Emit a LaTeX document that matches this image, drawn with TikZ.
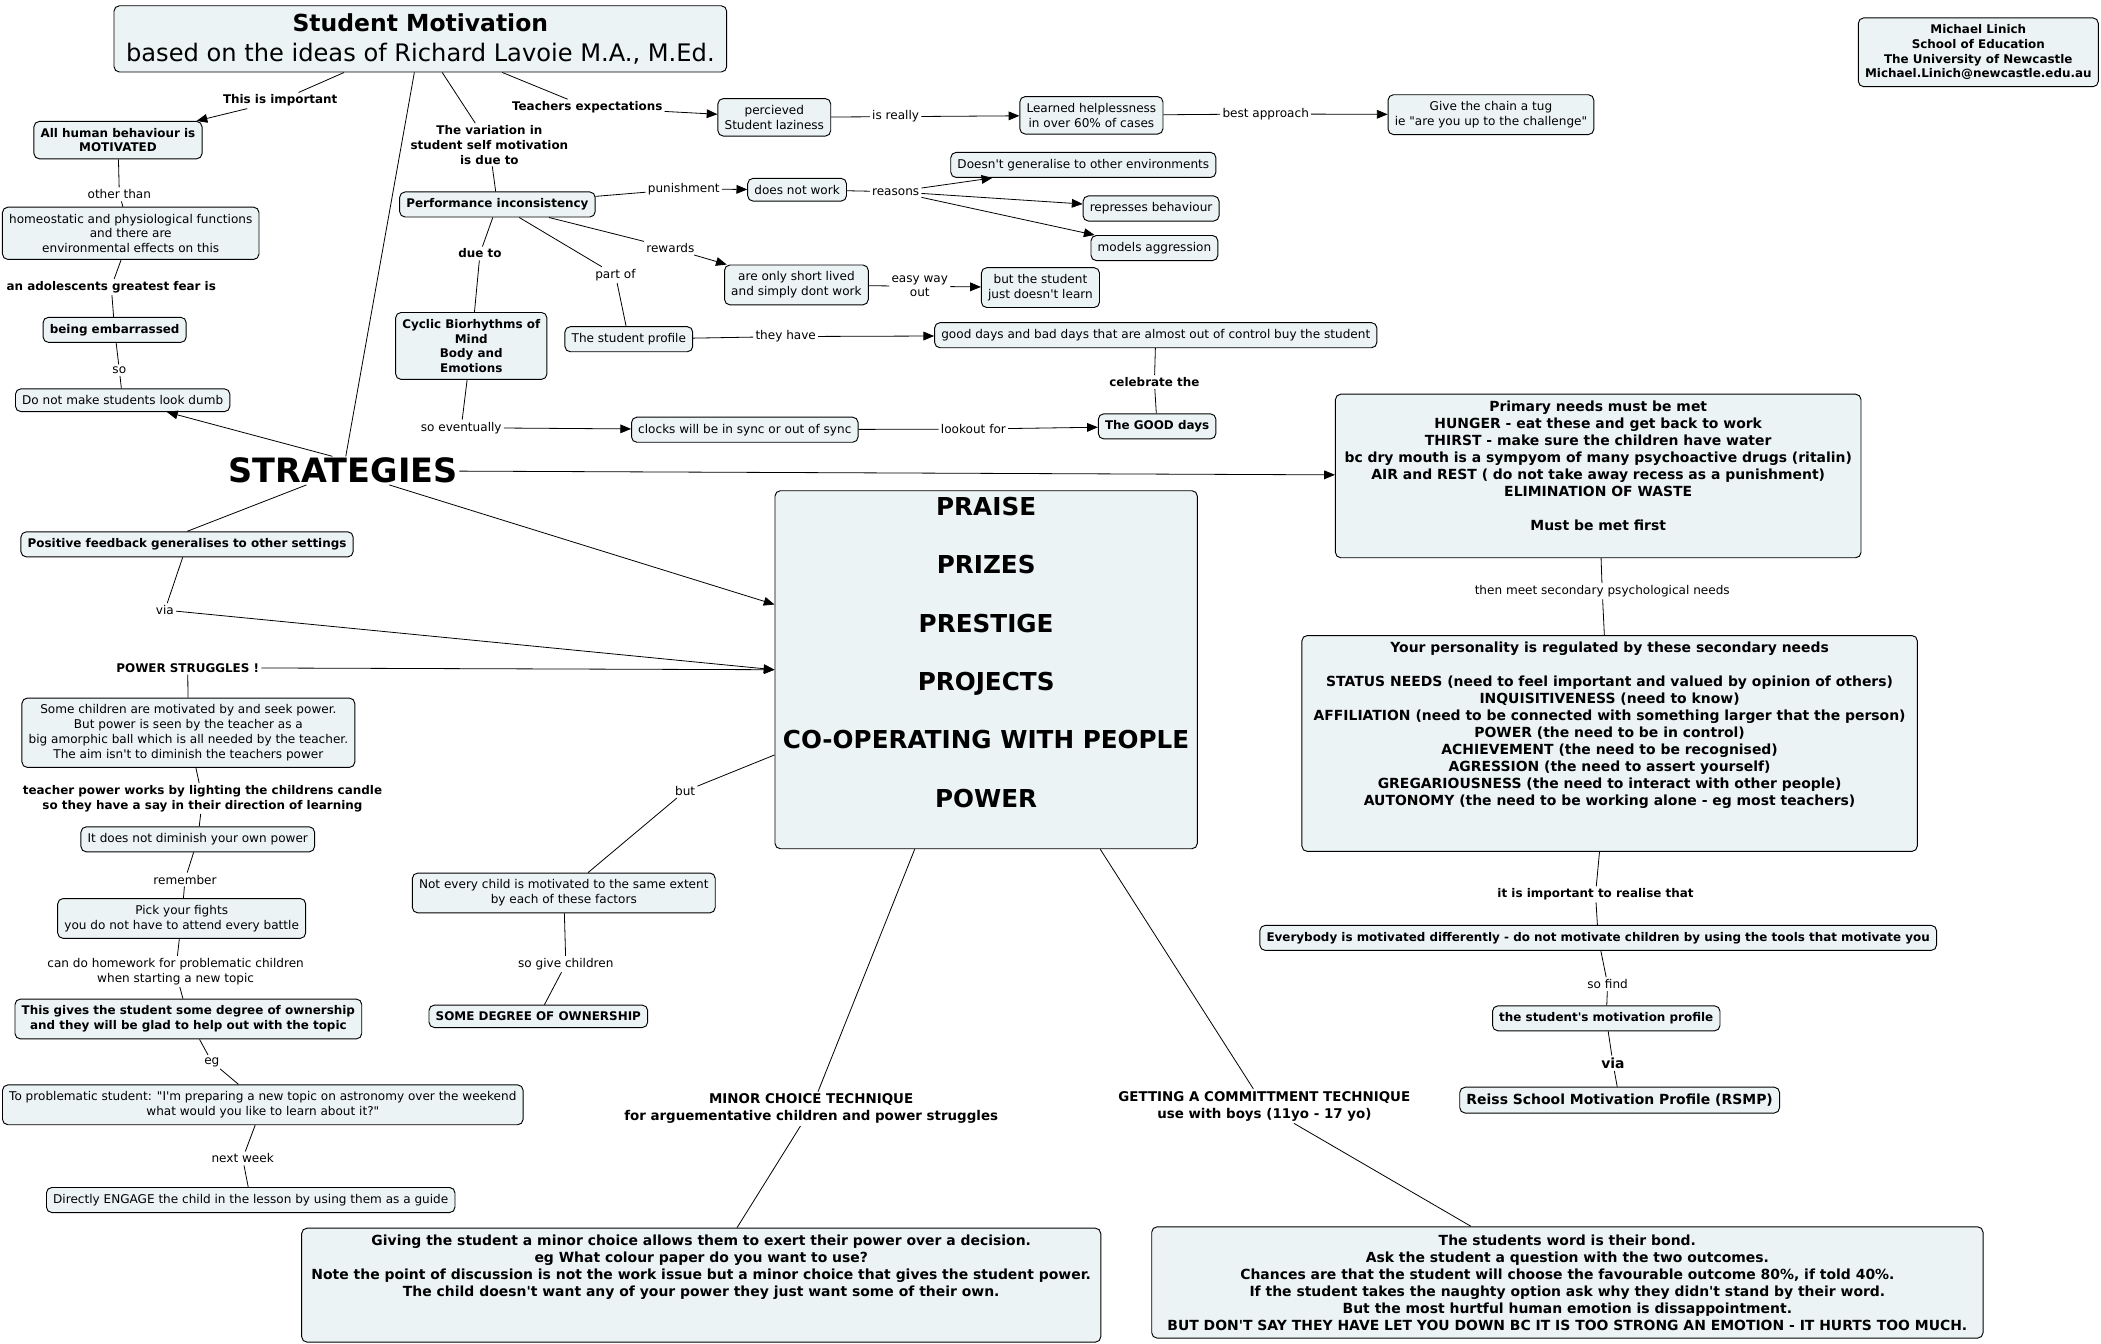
\documentclass[tikz,border=0pt]{standalone}
\usepackage{fontspec}
\setmainfont{DejaVu Sans}[Ligatures=TeXOff]
\usetikzlibrary{arrows.meta}
\definecolor{boxfill}{RGB}{236,243,245}
\tikzset{
  concept/.style={draw, rounded corners=4pt, fill=boxfill, line width=0.7pt, align=center,
    inner xsep=5pt, inner ysep=5pt, font=\fontsize{9}{11}\selectfont},
  bconcept/.style={concept, font=\fontsize{8.9}{11}\selectfont\bfseries},
  bigbox/.style={draw, rounded corners=4pt, fill=boxfill, line width=0.7pt},
  bigtext/.style={align=center, inner sep=0pt, font=\fontsize{10.4}{12.7}\selectfont\bfseries},
  link/.style={align=center, inner sep=1.5pt, font=\fontsize{9}{11}\selectfont},
  blink/.style={link, font=\fontsize{8.9}{11}\selectfont\bfseries},
  con/.style={line width=0.6pt},
  arr/.style={con, -{Triangle[length=8pt,width=6.5pt]}},
}

\begin{document}
\begin{tikzpicture}[x=1pt,y=-1pt]
  \fill[white] (0,0) rectangle (1567,1002.4);
  \useasboundingbox (0,0) rectangle (1567,1002.4);

  % title and author
  \node[concept, inner xsep=9pt, inner ysep=6pt, font=\fontsize{18}{22}\selectfont] (title) at (313.5,29)
    {{\bfseries\fontsize{17.5}{22}\selectfont Student Motivation}\\based on the ideas of Richard Lavoie M.A., M.Ed.};
  \node[bconcept] (author) at (1475.5,39) {Michael Linich\\School of Education\\The University of Newcastle\\Michael.Linich@newcastle.edu.au};

  % upper left branch
  \node[bconcept] (human) at (88,104.5) {All human behaviour is\\MOTIVATED};
  \node[concept] (homeo) at (97.5,174) {homeostatic and physiological functions\\and there are\\environmental effects on this};
  \node[bconcept] (embarrassed) at (85.5,246) {being embarrassed};
  \node[concept] (dumb) at (91.5,298.5) {Do not make students look dumb};

  % performance inconsistency
  \node[bconcept] (inconsistency) at (371,152.5) {Performance inconsistency};
  \node[bconcept] (cyclic) at (351.5,258) {Cyclic Biorhythms of\\Mind\\Body and\\Emotions};
  \node[concept] (profile) at (469,253) {The student profile};
  \node[concept] (laziness) at (577.5,87.5) {percieved\\Student laziness};
  \node[concept] (helpless) at (814,86) {Learned helplessness\\in over 60\% of cases};
  \node[concept] (tug) at (1112,85.5) {Give the chain a tug\\ie "are you up to the challenge"};
  \node[concept] (notwork) at (594.5,141.5) {does not work};
  \node[concept] (generalise) at (808,123) {Doesn't generalise to other environments};
  \node[concept] (represses) at (858.5,155.5) {represses behaviour};
  \node[concept] (aggression) at (861,185) {models aggression};
  \node[concept] (shortlived) at (594,212.5) {are only short lived\\and simply dont work};
  \node[concept] (dontlearn) at (776,214.5) {but the student\\just doesn't learn};
  \node[concept] (gooddays) at (862,250) {good days and bad days that are almost out of control buy the student};
  \node[concept] (clocks) at (555.5,320.5) {clocks will be in sync or out of sync};
  \node[bconcept] (thegood) at (863,318) {The GOOD days};

  \node[inner sep=1pt, font=\fontsize{25}{28}\selectfont\bfseries] (strategies) at (256,351) {STRATEGIES};

  % needs
  \node[bigbox, minimum width=392pt, minimum height=122pt] (primary) at (1192,355) {};
  \node[bigtext] (primarytext) at (1192,347.5) {Primary needs must be met\\HUNGER - eat these and get back to work\\THIRST - make sure the children have water\\bc dry mouth is a sympyom of many psychoactive drugs (ritalin)\\AIR and REST ( do not take away recess as a punishment)\\ELIMINATION OF WASTE\\[12.7pt]Must be met first};
  \node[bigbox, minimum width=459pt, minimum height=161pt] (secondary) at (1200.5,554.5) {};
  \node[bigtext] (secondarytext) at (1200.5,541) {Your personality is regulated by these secondary needs\\[12.7pt]STATUS NEEDS (need to feel important and valued by opinion of others)\\INQUISITIVENESS (need to know)\\AFFILIATION (need to be connected with something larger that the person)\\POWER (the need to be in control)\\ACHIEVEMENT (the need to be recognised)\\AGRESSION (the need to assert yourself)\\GREGARIOUSNESS (the need to interact with other people)\\AUTONOMY (the need to be working alone - eg most teachers)};

  % the six P's
  \node[bigbox, minimum width=315pt, minimum height=267pt] (praise) at (735.5,499.5) {};
  \node[bigtext, font=\fontsize{18.4}{21.75}\selectfont\bfseries] (praisetext) at (735.5,486.5) {PRAISE\\[21.75pt]PRIZES\\[21.75pt]PRESTIGE\\[21.75pt]PROJECTS\\[21.75pt]CO-OPERATING WITH PEOPLE\\[21.75pt]POWER};

  % lower left branch
  \node[bconcept] (feedback) at (139.5,406) {Positive feedback generalises to other settings};
  \node[concept] (seekpower) at (140.5,546.5) {Some children are motivated by and seek power.\\But power is seen by the teacher as a\\big amorphic ball which is all needed by the teacher.\\The aim isn't to diminish the teachers power};
  \node[concept] (owndiminish) at (147.5,626) {It does not diminish your own power};
  \node[concept] (fights) at (135.5,685) {Pick your fights\\you do not have to attend every battle};
  \node[bconcept] (ownership) at (140.5,760) {This gives the student some degree of ownership\\and they will be glad to help out with the topic};
  \node[concept] (astronomy) at (196,824) {To problematic student: "I'm preparing a new topic on astronomy over the weekend\\what would you like to learn about it?"};
  \node[concept] (engage) at (187,895) {Directly ENGAGE the child in the lesson by using them as a guide};
  \node[concept] (notevery) at (420.5,666) {Not every child is motivated to the same extent\\by each of these factors};
  \node[bconcept] (someowner) at (401.5,758) {SOME DEGREE OF OWNERSHIP};

  % techniques
  \node[bigbox, minimum width=596pt, minimum height=85pt] (minorbox) at (523,958.5) {};
  \node[bigtext] (minortext) at (523,945) {Giving the student a minor choice allows them to exert their power over a decision.\\eg What colour paper do you want to use?\\Note the point of discussion is not the work issue but a minor choice that gives the student power.\\The child doesn't want any of your power they just want some of their own.};
  \node[bigbox, minimum width=620pt, minimum height=83pt] (commitbox) at (1169,956.5) {};
  \node[bigtext] (committext) at (1169,956.5) {The students word is their bond.\\Ask the student a question with the two outcomes.\\Chances are that the student will choose the favourable outcome 80\%, if told 40\%.\\If the student takes the naughty option ask why they didn't stand by their word.\\But the most hurtful human emotion is dissappointment.\\BUT DON'T SAY THEY HAVE LET YOU DOWN BC IT IS TOO STRONG AN EMOTION - IT HURTS TOO MUCH.};

  % right branch
  \node[bconcept] (everybody) at (1192,699.5) {Everybody is motivated differently - do not motivate children by using the tools that motivate you};
  \node[bconcept] (motprofile) at (1198,759.5) {the student's motivation profile};
  \node[bconcept, font=\fontsize{10.4}{12.7}\selectfont\bfseries] (reiss) at (1208,820.5) {Reiss School Motivation Profile (RSMP)};

  % linking phrases
  \node[blink] (important) at (209,75) {This is important};
  \node[blink] (expectations) at (438,80) {Teachers expectations};
  \node[blink] (variation) at (365,108) {The variation in\\student self motivation\\is due to};
  \node[link] (otherthan) at (89,145) {other than};
  \node[blink] (fear) at (83,214) {an adolescents greatest fear is};
  \node[link] (so) at (89,276) {so};
  \node[link] (punishment) at (510,141) {punishment};
  \node[link] (reasons) at (668,143) {reasons};
  \node[link] (rewards) at (500,185) {rewards};
  \node[link] (partof) at (459,205) {part of};
  \node[blink] (dueto) at (358,189) {due to};
  \node[link] (easyway) at (686,213.5) {easy way\\out};
  \node[link] (theyhave) at (586,251) {they have};
  \node[blink] (celebrate) at (861,285) {celebrate the};
  \node[link] (eventually) at (344,319) {so eventually};
  \node[link] (lookout) at (726,320) {lookout for};
  \node[link] (isreally) at (668,87) {is really};
  \node[link] (bestapproach) at (944,85) {best approach};
  \node[link] (via) at (123,455) {via};
  \node[blink] (struggles) at (140,498) {POWER STRUGGLES !};
  \node[blink] (candle) at (151,595.5) {teacher power works by lighting the childrens candle\\so they have a say in their direction of learning};
  \node[link] (remember) at (138,656) {remember};
  \node[link] (homework) at (131,724.5) {can do homework for problematic children\\when starting a new topic};
  \node[link] (eg) at (158,792) {eg};
  \node[link] (nextweek) at (181,864) {next week};
  \node[link] (but) at (511,590) {but};
  \node[link] (sogive) at (422,719) {so give children};
  \node[link] (thenmeet) at (1195,441) {then meet secondary psychological needs};
  \node[blink] (realise) at (1190,667) {it is important to realise that};
  \node[link] (sofind) at (1199,734) {so find};
  \node[blink, font=\fontsize{10.4}{12.7}\selectfont\bfseries] (viaprofile) at (1203,793) {via};
  \node[blink, font=\fontsize{10}{12.7}\selectfont\bfseries] (minorchoice) at (605,827) {MINOR CHOICE TECHNIQUE\\for arguementative children and power struggles};
  \node[blink, font=\fontsize{10}{12.7}\selectfont\bfseries] (commitment) at (943,825) {GETTING A COMMITTMENT TECHNIQUE\\use with boys (11yo - 17 yo)};

  % connectors
  \draw[con] (title) -- (important);
  \draw[arr] (important) -- (human);
  \draw[con] (title) -- (expectations);
  \draw[arr] (expectations) -- (laziness);
  \draw[con] (title) -- (variation);
  \draw[con] (variation) -- (inconsistency);
  \draw[con] (title) -- (strategies);
  \draw[con] (laziness) -- (isreally);
  \draw[arr] (isreally) -- (helpless);
  \draw[con] (helpless) -- (bestapproach);
  \draw[arr] (bestapproach) -- (tug);
  \draw[con] (human) -- (otherthan);
  \draw[con] (otherthan) -- (homeo);
  \draw[con] (homeo) -- (fear);
  \draw[con] (fear) -- (embarrassed);
  \draw[con] (embarrassed) -- (so);
  \draw[con] (so) -- (dumb);
  \draw[con] (inconsistency) -- (punishment);
  \draw[arr] (punishment) -- (notwork);
  \draw[con] (notwork) -- (reasons);
  \draw[arr] (reasons) -- (generalise);
  \draw[arr] (reasons) -- (represses);
  \draw[arr] (reasons) -- (aggression);
  \draw[con] (inconsistency) -- (rewards);
  \draw[arr] (rewards) -- (shortlived);
  \draw[con] (shortlived) -- (easyway);
  \draw[arr] (easyway) -- (dontlearn);
  \draw[con] (inconsistency) -- (partof);
  \draw[con] (partof) -- (profile);
  \draw[con] (inconsistency) -- (dueto);
  \draw[con] (dueto) -- (cyclic);
  \draw[con] (profile) -- (theyhave);
  \draw[arr] (theyhave) -- (gooddays);
  \draw[con] (gooddays) -- (celebrate);
  \draw[con] (celebrate) -- (thegood);
  \draw[con] (cyclic) -- (eventually);
  \draw[arr] (eventually) -- (clocks);
  \draw[con] (clocks) -- (lookout);
  \draw[arr] (lookout) -- (thegood);

  \draw[arr] ([xshift=-8pt]strategies.north) -- (dumb);
  \draw[arr] (strategies) -- (primary);
  \draw[arr] (strategies) -- (praise);
  \draw[con] (strategies) -- (feedback.north);
  \draw[con] (feedback) -- (via);
  \draw[arr] (via) -- (praise.west);
  \draw[arr] (struggles) -- (praise.west);
  \draw[con] (seekpower) -- (struggles);
  \draw[con] (seekpower) -- (candle);
  \draw[con] (candle) -- (owndiminish);
  \draw[con] (owndiminish) -- (remember);
  \draw[con] (remember) -- (fights);
  \draw[con] (fights) -- (homework);
  \draw[con] (homework) -- (ownership);
  \draw[con] (ownership) -- (eg);
  \draw[con] (eg) -- (astronomy);
  \draw[con] (astronomy) -- (nextweek);
  \draw[con] (nextweek) -- (engage);
  \draw[con] (praise) -- (but);
  \draw[con] (but) -- (notevery);
  \draw[con] (notevery) -- (sogive);
  \draw[con] (sogive) -- (someowner);
  \draw[con] (praise) -- (minorchoice);
  \draw[con] (minorchoice) -- (minorbox);
  \draw[con] (praise) -- (commitment);
  \draw[con] (commitment) -- (commitbox);
  \draw[con] (primary) -- (thenmeet);
  \draw[con] (thenmeet) -- (secondary);
  \draw[con] (secondary) -- (realise);
  \draw[con] (realise) -- (everybody);
  \draw[con] (everybody) -- (sofind);
  \draw[con] (sofind) -- (motprofile);
  \draw[con] (motprofile) -- (viaprofile);
  \draw[con] (viaprofile) -- (reiss);
\end{tikzpicture}
\end{document}
